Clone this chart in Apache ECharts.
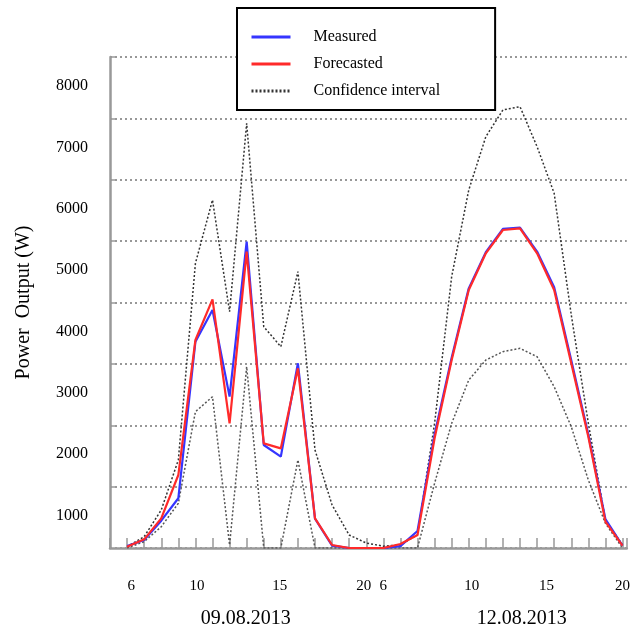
<!DOCTYPE html>
<html>
<head>
<meta charset="utf-8">
<script src="https://cdn.jsdelivr.net/npm/echarts@6/dist/echarts.min.js"></script>
<style>
html, body { margin: 0; padding: 0; background: #fff; }
#chart { width: 633px; height: 629px; }
</style>
</head>
<body>
<div id="chart"></div>
<script>
// hourly points, 6h..20h on 09.08.2013 then 6h..20h on 12.08.2013
var measured = [30, 130, 445, 810, 3361, 3878, 2466, 4991, 1678, 1488, 3009, 480, 40, 0, 0,
                0, 30, 277, 1850, 3100, 4230, 4820, 5200, 5220, 4830, 4250, 3060, 1850, 470, 40];
var forecasted = [20, 141, 483, 1189, 3389, 4052, 2031, 4828, 1705, 1624, 2928, 483, 49, 0, 0,
                  0, 65, 212, 1787, 3063, 4204, 4801, 5181, 5208, 4801, 4204, 3009, 1814, 430, 40];
var ciUpper = [20, 185, 619, 1434, 4638, 5670, 3850, 6920, 3606, 3280, 4503, 1597, 700, 212, 81,
               30, 50, 212, 2031, 4421, 5833, 6702, 7137, 7191, 6539, 5779, 3800, 2031, 456, 49];
var ciLower = [0, 103, 347, 728, 2221, 2465, 49, 2954, 0, 0, 1434, 0, 0, 0, 0,
               0, 0, 0, 1054, 2031, 2737, 3063, 3199, 3253, 3117, 2628, 1977, 1108, 402, 0];

// hour tick labels, as placed in the figure
var hourLabelPos = [0.25, 4.09, 8.93, 13.85, 15, 20.18, 24.55, 29];
var hourLabelText = ['6', '10', '15', '20', '6', '10', '15', '20'];
var dayLabelPos = [6.95, 23.1];
var dayLabelText = ['09.08.2013', '12.08.2013'];

var FONT = 'Liberation Serif';

function toPairs(arr) {
    return arr.map(function (v, i) { return [i, v]; });
}

var dom = document.getElementById('chart');
var myChart = echarts.init(dom);

var option = {
    animation: false,
    backgroundColor: '#fff',
    legend: {
        left: 237,
        top: 8,
        orient: 'vertical',
        data: ['Measured', 'Forecasted', 'Confidence interval'],
        backgroundColor: '#fff',
        borderColor: '#000',
        borderWidth: 2,
        borderRadius: 0,
        padding: [21, 55, 11, 13],
        itemWidth: 39,
        itemHeight: 12,
        itemGap: 11,
        itemStyle: {opacity: 0},
        lineStyle: {width: 3},
        textStyle: {
            fontFamily: FONT,
            fontSize: 16,
            color: '#000',
            padding: [0, 0, 0, 18]
        },
        z: 10
    },
    grid: {
        left: 110,
        right: 0,
        top: 57,
        bottom: 81
    },
    xAxis: [
        {
            type: 'value',
            min: -1,
            max: 29.25,
            interval: 1,
            axisLine: {onZero: false, lineStyle: {color: '#999', width: 2.5}},
            axisTick: {inside: true, length: 10, lineStyle: {color: '#999', width: 1.5}},
            splitLine: {show: false},
            axisLabel: {
                customValues: hourLabelPos,
                formatter: function (v) {
                    var i = hourLabelPos.indexOf(v);
                    return i >= 0 ? hourLabelText[i] : '';
                },
                margin: 31,
                fontFamily: FONT,
                fontSize: 15,
                color: '#000'
            }
        },
        {
            type: 'value',
            position: 'bottom',
            min: -1,
            max: 29.25,
            axisLine: {show: false},
            axisTick: {show: false},
            splitLine: {show: false},
            axisLabel: {
                customValues: dayLabelPos,
                formatter: function (v) {
                    var i = dayLabelPos.indexOf(v);
                    return i >= 0 ? dayLabelText[i] : '';
                },
                margin: 61,
                fontFamily: FONT,
                fontSize: 20,
                color: '#000'
            }
        }
    ],
    yAxis: {
        type: 'value',
        min: 0,
        max: 8000,
        interval: 1000,
        name: 'Power  Output (W)',
        nameLocation: 'middle',
        nameGap: 76,
        nameTextStyle: {fontFamily: FONT, fontSize: 20, color: '#000'},
        axisLine: {show: true, onZero: false, lineStyle: {color: '#999', width: 2.5}},
        axisTick: {show: true, inside: true, length: 7, lineStyle: {color: '#999', width: 1.5}},
        splitLine: {show: true, lineStyle: {color: '#777', width: 1.5, type: [2, 3]}},
        axisLabel: {
            showMinLabel: false,
            formatter: function (v) { return String(v); },
            margin: 22,
            verticalAlign: 'top',
            padding: [21, 0, 0, 0],
            fontFamily: FONT,
            fontSize: 16,
            color: '#000'
        }
    },
    series: [
        {
            name: 'Confidence interval',
            type: 'line',
            data: toPairs(ciUpper),
            symbol: 'none',
            lineStyle: {color: '#333', width: 1.5, type: [2, 2]},
            itemStyle: {color: '#333'},
            z: 2
        },
        {
            name: 'Confidence interval',
            type: 'line',
            data: toPairs(ciLower),
            symbol: 'none',
            lineStyle: {color: '#555', width: 1.5, type: [2, 2]},
            itemStyle: {color: '#555'},
            z: 2
        },
        {
            name: 'Measured',
            type: 'line',
            data: toPairs(measured),
            symbol: 'none',
            lineStyle: {color: '#3535ff', width: 2.2},
            itemStyle: {color: '#3535ff'},
            z: 3
        },
        {
            name: 'Forecasted',
            type: 'line',
            data: toPairs(forecasted),
            symbol: 'none',
            lineStyle: {color: '#ff2a2a', width: 2.2},
            itemStyle: {color: '#ff2a2a'},
            z: 4
        }
    ]
};

if (option && typeof option === 'object') {
    myChart.setOption(option, true);
}
window.addEventListener('resize', function () {
    myChart.resize();
});
</script>
</body>
</html>
